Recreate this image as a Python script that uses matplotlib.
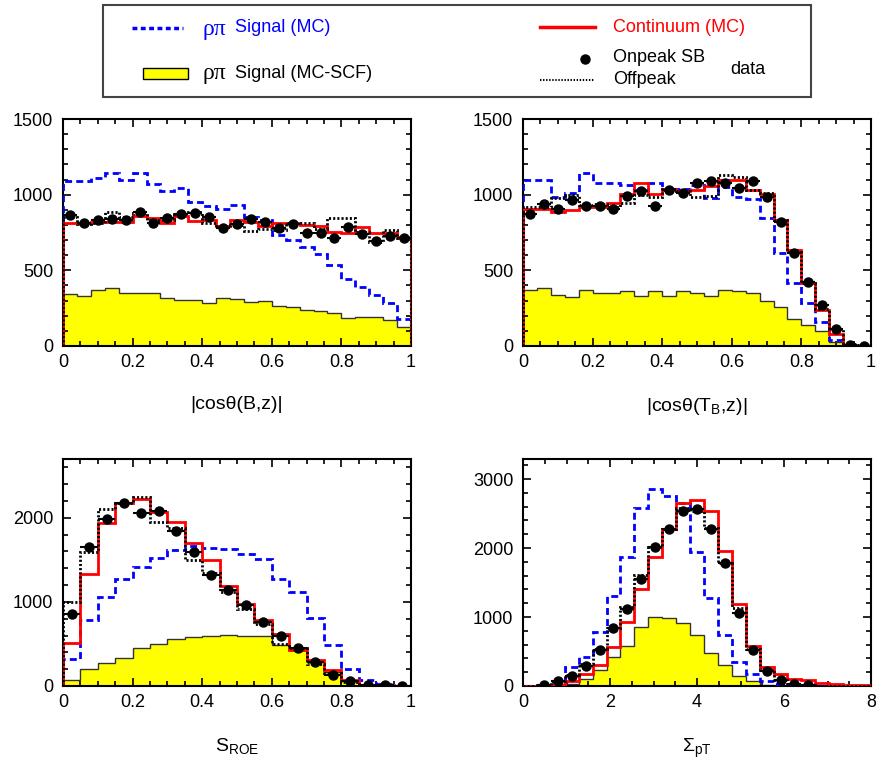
import numpy as np
import matplotlib
matplotlib.use("Agg")
import matplotlib.pyplot as plt
from matplotlib.patches import Rectangle
from matplotlib.ticker import MultipleLocator

plt.rcParams['font.family'] = ['Liberation Sans', 'DejaVu Sans']
plt.rcParams['mathtext.fontset'] = 'custom'
plt.rcParams['mathtext.rm'] = 'Liberation Sans'
plt.rcParams['mathtext.it'] = 'Liberation Sans:italic'
plt.rcParams['lines.scale_dashes'] = False

# ---- data: |cos theta(B,z)|, 25 bins in [0,1]
cosb_edges = np.linspace(0, 1, 26)
cosb_scf = [342, 329, 373, 380, 351, 351, 353, 320, 307, 303, 285, 320, 311,
            292, 296, 263, 258, 241, 234, 221, 186, 192, 194, 170, 126]
cosb_sig = [1091, 1091, 1109, 1146, 1098, 1142, 1071, 1025, 1043, 954, 928, 903, 932,
            850, 833, 733, 700, 652, 607, 535, 446, 391, 336, 281, 181]
cosb_cont = [811, 811, 817, 822, 822, 859, 844, 811, 859, 826, 833, 793, 833,
             822, 793, 811, 815, 800, 793, 755, 749, 789, 749, 744, 718]
cosb_on = [866, 811, 833, 839, 833, 888, 815, 844, 873, 877, 850, 778, 806,
           839, 817, 778, 806, 749, 744, 716, 789, 740, 694, 729, 711]
cosb_off = [850, 806, 811, 888, 855, 881, 833, 833, 873, 888, 811, 784, 800,
            762, 773, 766, 815, 815, 771, 848, 848, 755, 689, 766, 711]

# ---- |cos theta(T_B,z)|, 25 bins in [0,1]
cost_edges = np.linspace(0, 1, 26)
cost_scf = [369, 380, 336, 325, 373, 347, 351, 362, 329, 362, 329, 362, 353,
            329, 373, 362, 351, 298, 258, 177, 141, 99, 27, 9, 4]
cost_sig = [1098, 1098, 983, 1010, 1146, 1080, 1080, 1065, 1032, 1076, 1032, 1040, 1065,
            976, 1049, 983, 970, 844, 612, 417, 281, 159, 38, 4, 0]
cost_cont = [903, 903, 888, 899, 917, 921, 948, 1005, 1076, 1003, 1040, 1025, 1032,
             1058, 1100, 1100, 1032, 1005, 833, 634, 413, 236, 77, 9, 0]
cost_on = [870, 939, 906, 965, 926, 928, 906, 994, 1021, 926, 1032, 1010, 1080,
           1093, 1080, 1043, 1091, 983, 822, 612, 424, 270, 115, 4, 2]
cost_off = [917, 917, 976, 998, 932, 939, 921, 943, 998, 987, 1036, 1021, 983,
            992, 1127, 1120, 1032, 1010, 833, 623, 413, 247, 115, 15, 4]

# ---- S_ROE, 20 bins in [0,1]
sroe_edges = np.linspace(0, 1, 21)
sroe_scf = [67, 198, 278, 337, 456, 504, 556, 583, 595, 603, 599, 591, 492,
            425, 286, 167, 60, 16, 8, 4]
sroe_sig = [325, 782, 1060, 1270, 1417, 1524, 1615, 1663, 1647, 1635, 1575, 1516, 1278,
            1119, 813, 492, 206, 67, 20, 4]
sroe_cont = [512, 1329, 1940, 2171, 2230, 2071, 1952, 1706, 1504, 1186, 972, 790, 615,
             433, 313, 187, 67, 16, 8, 4]
sroe_on = [853, 1655, 1992, 2171, 2063, 2083, 1841, 1595, 1317, 1147, 960, 762, 595,
           452, 286, 135, 60, 16, 8, 4]
sroe_off = [1000, 1595, 2111, 2171, 2250, 1952, 1885, 1504, 1345, 1119, 921, 742, 504,
            452, 266, 155, 52, 16, 8, 4]

# ---- Sigma pT, 25 bins in [0,8]
spt_edges = np.linspace(0, 8, 26)
spt_scf = [0, 0, 10, 34, 107, 228, 422, 577, 858, 994, 979, 916, 746,
           480, 300, 141, 68, 19, 5, 0, 0, 0, 0, 0, 0]
spt_sig = [0, 10, 58, 276, 422, 785, 1309, 1876, 2579, 2855, 2748, 2651, 1948,
           1270, 737, 349, 170, 73, 24, 10, 5, 3, 2, 1, 0]
spt_cont = [0, 5, 10, 68, 179, 300, 567, 931, 1401, 1866, 2273, 2651, 2690,
            2530, 1963, 1188, 582, 276, 170, 107, 82, 48, 34, 19, 19]
spt_on = [0, 10, 68, 145, 286, 519, 834, 1110, 1551, 2021, 2278, 2530, 2569,
          2278, 1789, 1052, 519, 218, 82, 34, 15, 0, 0, 0, 0]
spt_off = [0, 10, 68, 155, 325, 543, 834, 1149, 1609, 2011, 2278, 2579, 2540,
           2287, 1789, 1124, 543, 228, 82, 34, 15, 0, 0, 0, 0]

W, H = 876, 762
fig = plt.figure(figsize=(W / 100, H / 100), dpi=100)


def panel(rect, edges, scf, sig, cont, on, off, xlim, ylim, xmaj, xmin, ymaj, ymin, xlabel):
    ax = fig.add_axes(rect)
    ax.stairs(scf, edges, fill=True, color='#ffff00', zorder=1)
    ax.stairs(scf, edges, color='#333333', lw=1.0, zorder=2)
    ax.stairs(sig, edges, color='#0000ff', lw=2.0, linestyle=(0, (5, 3)), zorder=3)
    ax.stairs(cont, edges, color='#ff0000', lw=2.0, zorder=4)
    ax.stairs(off, edges, color='black', lw=2.0, linestyle=(0, (1.5, 1.5)), zorder=5)
    e = np.asarray(edges)
    cen = (e[:-1] + e[1:]) / 2
    hw = (e[1:] - e[:-1]) / 2
    on = np.asarray(on, dtype=float)
    m = on > 0
    ax.errorbar(cen[m], on[m], xerr=hw[m], fmt='o', color='black', ms=6.5,
                elinewidth=1.5, capsize=0, zorder=6)
    ax.set_xlim(*xlim)
    ax.set_ylim(*ylim)
    ax.xaxis.set_major_locator(MultipleLocator(xmaj))
    ax.xaxis.set_minor_locator(MultipleLocator(xmin))
    ax.yaxis.set_major_locator(MultipleLocator(ymaj))
    ax.yaxis.set_minor_locator(MultipleLocator(ymin))
    ax.tick_params(which='both', direction='in', top=True, right=True, labelsize=13, width=1.2)
    ax.tick_params(which='major', length=6)
    ax.tick_params(which='minor', length=3.5)
    ax.tick_params(axis='x', pad=6)
    ax.tick_params(axis='y', pad=7)
    ax.xaxis.set_major_formatter(matplotlib.ticker.FuncFormatter(lambda v, p: ('%g' % v)))
    for s in ax.spines.values():
        s.set_linewidth(1.5)
    ax.set_xlabel(xlabel, fontsize=14, labelpad=18)
    return ax


bx = 63 / W
bw = 348 / W
rx = 523 / W
ph = 227 / H
top_y = 1 - 346 / H
bot_y = 1 - 686 / H

panel([bx, top_y, bw, ph], cosb_edges, cosb_scf, cosb_sig, cosb_cont, cosb_on, cosb_off,
      (0, 1), (0, 1500), 0.2, 0.05, 500, 100, '|cosθ(B,z)|')
panel([rx, top_y, bw, ph], cost_edges, cost_scf, cost_sig, cost_cont, cost_on, cost_off,
      (0, 1), (0, 1500), 0.2, 0.05, 500, 100, r'|cosθ(T$_{\mathregular{B}}$,z)|')
panel([bx, bot_y, bw, ph], sroe_edges, sroe_scf, sroe_sig, sroe_cont, sroe_on, sroe_off,
      (0, 1), (0, 2700), 0.2, 0.05, 1000, 200, r'S$_{\mathregular{ROE}}$')
panel([rx, bot_y, bw, ph], spt_edges, spt_scf, spt_sig, spt_cont, spt_on, spt_off,
      (0, 8), (0, 3290), 2, 0.5, 1000, 200, r'Σ$_{\mathregular{pT}}$')

# ---- legend box drawn in pixel coordinates
lg = fig.add_axes([0, 0, 1, 1], zorder=10)
lg.set_xlim(0, W)
lg.set_ylim(H, 0)
lg.axis('off')
lg.add_patch(Rectangle((103, 5), 708, 92, fill=False, edgecolor='#444444', lw=1.5))
greek = ['Liberation Serif', 'DejaVu Serif']
lg.plot([132, 183], [28, 28], color='#0000ff', lw=2.5, linestyle=(0, (3.5, 2.5)))
lg.text(203, 29, 'ρπ', color='#0000ff', fontsize=17, va='center', family=greek)
lg.text(235, 28, 'Signal (MC)', color='#0000ff', fontsize=13, va='center')
lg.add_patch(Rectangle((143, 68), 45, 11, facecolor='#ffff00', edgecolor='black', lw=1))
lg.text(203, 74, 'ρπ', color='black', fontsize=17, va='center', family=greek)
lg.text(235, 73, 'Signal (MC-SCF)', color='black', fontsize=13, va='center')
lg.plot([540, 595], [27, 27], color='#ff0000', lw=2.5)
lg.text(613, 27, 'Continuum (MC)', color='#ff0000', fontsize=13, va='center')
lg.plot([585], [59], 'o', color='black', ms=6.5)
lg.text(613, 57, 'Onpeak SB', color='black', fontsize=13, va='center')
lg.plot([540, 595], [80, 80], color='black', lw=1.5, linestyle=(0, (1, 1.2)))
lg.text(613, 79, 'Offpeak', color='black', fontsize=13, va='center')
lg.text(730, 69, 'data', color='black', fontsize=13, va='center')

fig.savefig('out.png', dpi=100)
